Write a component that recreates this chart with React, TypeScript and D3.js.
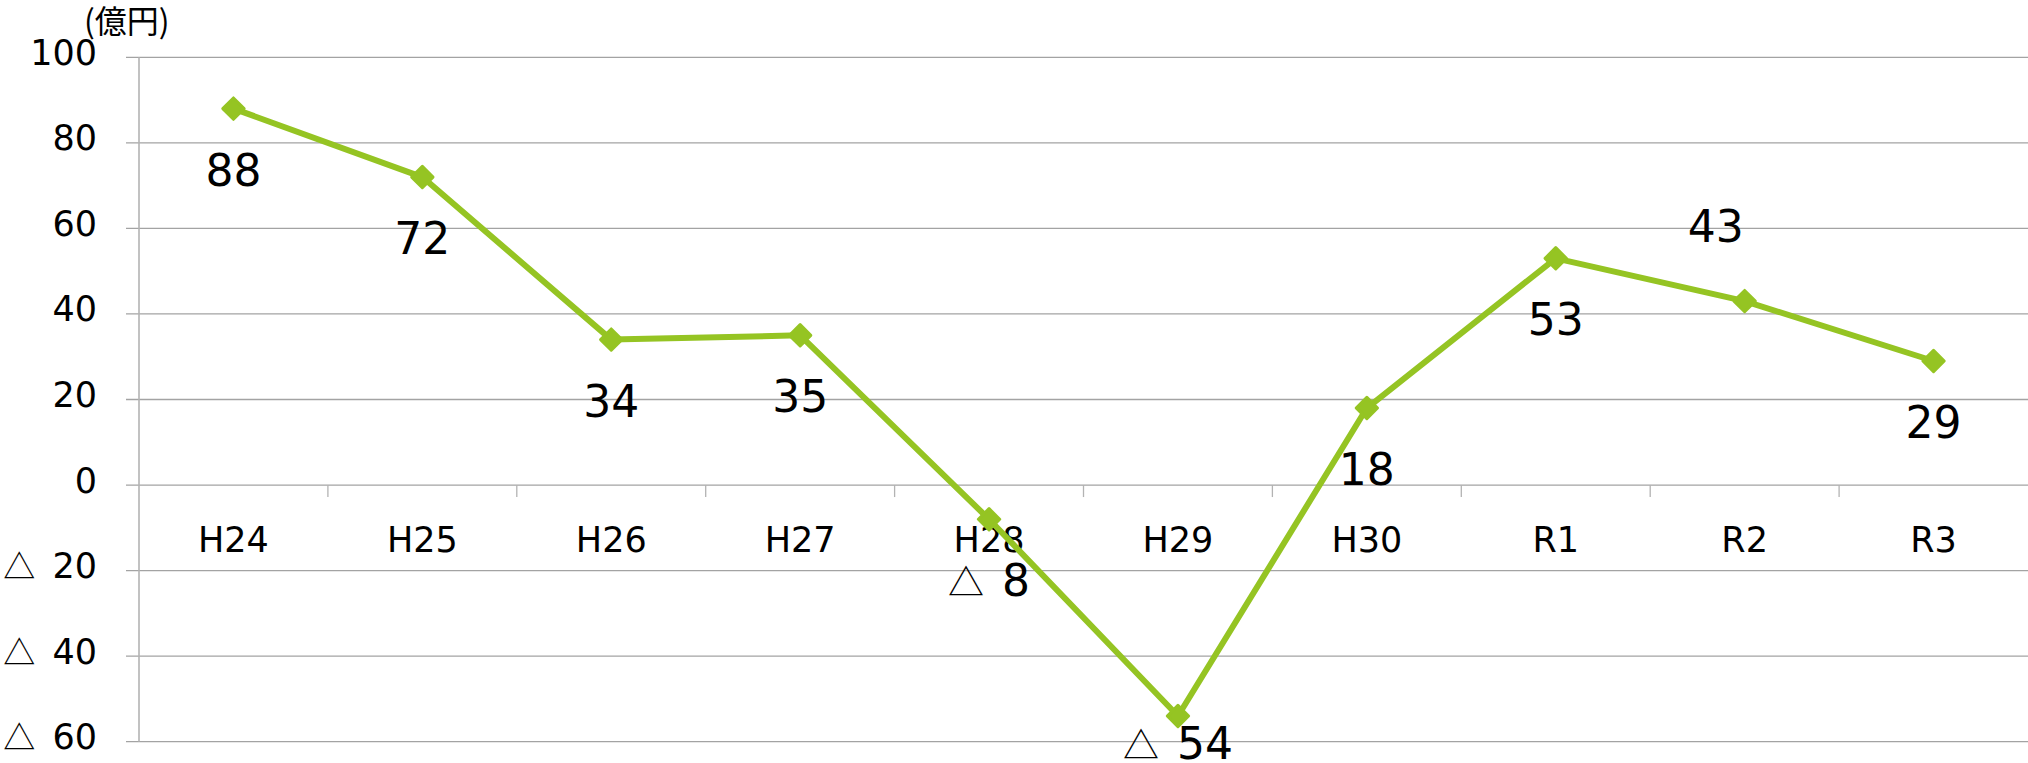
import React from "react";
import * as d3 from "d3";

const categories = ["H24", "H25", "H26", "H27", "H28", "H29", "H30", "R1", "R2", "R3"];
const values = [88, 72, 34, 35, -8, -54, 18, 53, 43, 29];
const yTicks = [100, 80, 60, 40, 20, 0, -20, -40, -60];
const unitLabel = "(億円)";
// "below" or "aboveLeft" placement of the data labels
const labelPlacement = ["below", "below", "below", "below", "below", "below", "below", "below", "aboveLeft", "below"];

const W = 2028;
const H = 763;
const LINE = "#95C423";
const GRID = "#a3a3a3";
const FONT = "'DejaVu Sans', Verdana, sans-serif";
const CJK = "'Noto Sans CJK JP', sans-serif";

function fmt(v: number) {
  return v < 0 ? { tri: true, num: String(Math.abs(v)) } : { tri: false, num: String(v) };
}

export default function App() {
  const x = d3.scaleBand<string>().domain(categories).range([139, 2028]).padding(0);
  const y = d3.scaleLinear().domain([-60, 100]).range([741.7, 57.3]);
  const cx = (c: string) => (x(c) as number) + x.bandwidth() / 2;

  const line = d3
    .line<number>()
    .x((_, i) => cx(categories[i]))
    .y((d) => y(d));

  const diamond = d3.symbol().type(d3.symbolDiamond2).size(290);

  return (
    <svg
      width={W}
      height={H}
      style={{ position: "absolute", left: 0, top: 0, display: "block", background: "#fff" }}
    >
      {/* gridlines */}
      {yTicks.map((t) => (
        <line key={"g" + t} x1={126} x2={W} y1={y(t)} y2={y(t)} stroke={GRID} strokeWidth={1.3} />
      ))}
      {/* y axis */}
      <line x1={139} x2={139} y1={y(100)} y2={y(-60)} stroke="#b3b3b3" strokeWidth={1.6} />
      {/* category ticks */}
      {categories.slice(1).map((c) => (
        <line key={"t" + c} x1={x(c) as number} x2={x(c) as number} y1={y(0)} y2={y(0) + 12} stroke="#b3b3b3" strokeWidth={1.3} />
      ))}
      {/* y tick labels */}
      {yTicks.map((t) => {
        const f = fmt(t);
        return (
          <text key={"yl" + t} x={97} y={y(t) + 7.5} textAnchor="end" fontFamily={FONT} fontSize={35} fill="#000">
            {f.tri ? <tspan fontFamily={CJK} fontSize={32}>△</tspan> : null}
            {f.tri ? <tspan dx={6}>{" " + f.num}</tspan> : f.num}
          </text>
        );
      })}
      {/* unit */}
      <text x={84} y={33} fontFamily={CJK} fontSize={32} fill="#000">{unitLabel}</text>
      {/* category labels */}
      {categories.map((c) => (
        <text key={"c" + c} x={cx(c)} y={551.5} textAnchor="middle" fontFamily={FONT} fontSize={35} fill="#000">
          {c}
        </text>
      ))}
      {/* line */}
      <path d={line(values) || ""} fill="none" stroke={LINE} strokeWidth={6} strokeLinejoin="round" />
      {values.map((v, i) => (
        <path
          key={"m" + i}
          d={diamond() || ""}
          transform={`translate(${cx(categories[i])},${y(v)})`}
          fill={LINE}
          stroke={LINE}
          strokeWidth={3}
          strokeLinejoin="round"
        />
      ))}
      {/* data labels */}
      {values.map((v, i) => {
        const f = fmt(v);
        const px = cx(categories[i]);
        const py = y(v);
        let lx = px;
        let ly = Math.min(py + 77, 759);
        if (labelPlacement[i] === "aboveLeft") {
          lx = px - 29;
          ly = py - 58.7;
        }
        return (
          <text key={"l" + i} x={lx} y={ly} textAnchor="middle" fontFamily={FONT} fontSize={44} fill="#000">
            {f.tri ? <tspan fontFamily={CJK} fontSize={36}>△</tspan> : null}
            {f.tri ? <tspan dx={4}>{" " + f.num}</tspan> : f.num}
          </text>
        );
      })}
    </svg>
  );
}
